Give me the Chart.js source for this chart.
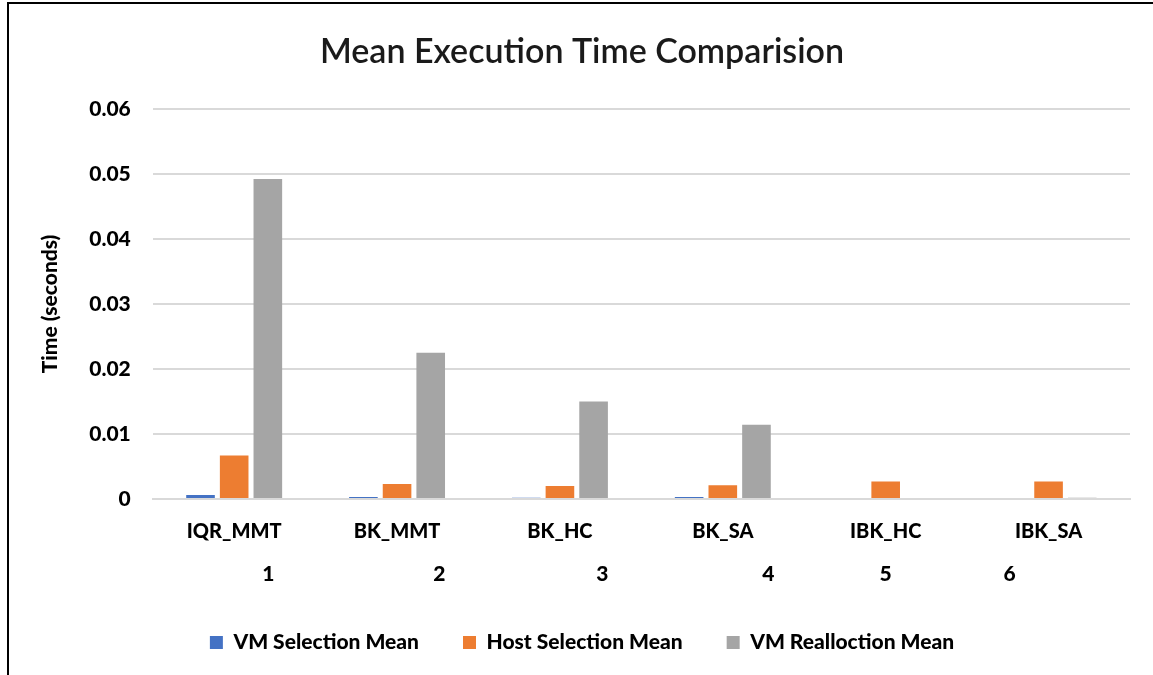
<!DOCTYPE html>
<html>
<head>
<meta charset="utf-8">
<script src="https://cdn.jsdelivr.net/npm/chart.js@4.4.0/dist/chart.umd.min.js"></script>
<style>
    body { margin: 0; background: #fff; }
    #wrap { position: relative; width: 1153px; height: 675px; overflow: hidden; }
    #frame { position: absolute; left: 7px; top: 2px; width: 1150px; height: 700px; border: 2px solid #000; pointer-events: none; }
    canvas { position: absolute; left: 0; top: 0; }
</style>
</head>
<body>
<div id="wrap">
    <canvas id="chart" width="1153" height="675"></canvas>
    <div id="frame"></div>
</div>
<script>
// Mean execution time per algorithm (seconds)
const categories = ['IQR_MMT', 'BK_MMT', 'BK_HC', 'BK_SA', 'IBK_HC', 'IBK_SA'];
const vmSelection = [0.0006, 0.0003, 0.0002, 0.0003, 0, 0];
const hostSelection = [0.0067, 0.0023, 0.0020, 0.0021, 0.0027, 0.0027];
const vmRealloc = [0.0492, 0.0225, 0.0150, 0.0114, 0, 0.0002];

// second row of numbers under the categories, sits at fractional category positions
const rowNumbers = ['1', '2', '3', '4', '5', '6'];
const rowNumberIndex = [0.21, 1.26, 2.26, 3.28, 4.0, 4.76];

const yTicks = [0, 0.01, 0.02, 0.03, 0.04, 0.05, 0.06];

const FONT = 'Lato, "Open Sans", sans-serif';

const numberRow = {
    id: 'numberRow',
    afterDraw(chart) {
        const ctx = chart.ctx;
        const x = chart.scales.x;
        ctx.save();
        ctx.font = '900 21px ' + FONT;
        ctx.fillStyle = '#000';
        ctx.textAlign = 'center';
        ctx.textBaseline = 'middle';
        rowNumbers.forEach((n, i) => {
            ctx.fillText(n, x.getPixelForValue(rowNumberIndex[i]), x.top + 75);
        });
        ctx.restore();
    }
};

new Chart(document.getElementById('chart').getContext('2d'), {
    type: 'bar',
    data: {
        labels: categories,
        datasets: [
            { label: 'VM Selection Mean', data: vmSelection, backgroundColor: '#4472C4' },
            { label: 'Host Selection Mean', data: hostSelection, backgroundColor: '#ED7D31' },
            { label: 'VM Realloction Mean', data: vmRealloc, backgroundColor: '#A5A5A5' }
        ]
    },
    options: {
        responsive: false,
        animation: false,
        categoryPercentage: 0.62,
        barPercentage: 0.85,
        layout: { padding: { left: 34, right: 23, top: 32, bottom: 12 } },
        plugins: {
            title: {
                display: true,
                text: 'Mean Execution Time Comparision',
                color: '#1a1a1a',
                font: { family: FONT, size: 34, weight: '600' },
                padding: { top: 0, bottom: 36 }
            },
            legend: {
                position: 'bottom',
                labels: {
                    color: '#000',
                    boxWidth: 13,
                    boxHeight: 13,
                    padding: 44,
                    font: { family: FONT, size: 21, weight: '900' }
                }
            },
            tooltip: { enabled: false }
        },
        scales: {
            x: {
                grid: { display: false },
                border: { color: '#d9d9d9', width: 2 },
                ticks: {
                    color: '#000',
                    padding: 13,
                    font: { family: FONT, size: 20, weight: '900' }
                },
                afterFit(scale) { scale.height += 31; }
            },
            y: {
                min: 0,
                max: 0.06,
                afterBuildTicks(scale) { scale.ticks = yTicks.map(v => ({ value: v })); },
                grid: { color: '#d9d9d9', lineWidth: 2, drawTicks: false },
                border: { display: false },
                ticks: {
                    color: '#000',
                    padding: 22,
                    font: { family: FONT, size: 21, weight: '900' },
                    callback: v => String(v)
                },
                title: {
                    display: true,
                    text: 'Time (seconds)',
                    color: '#000',
                    padding: { bottom: 4 },
                    font: { family: FONT, size: 21, weight: '900' }
                }
            }
        }
    },
    plugins: [numberRow]
});
</script>
</body>
</html>
